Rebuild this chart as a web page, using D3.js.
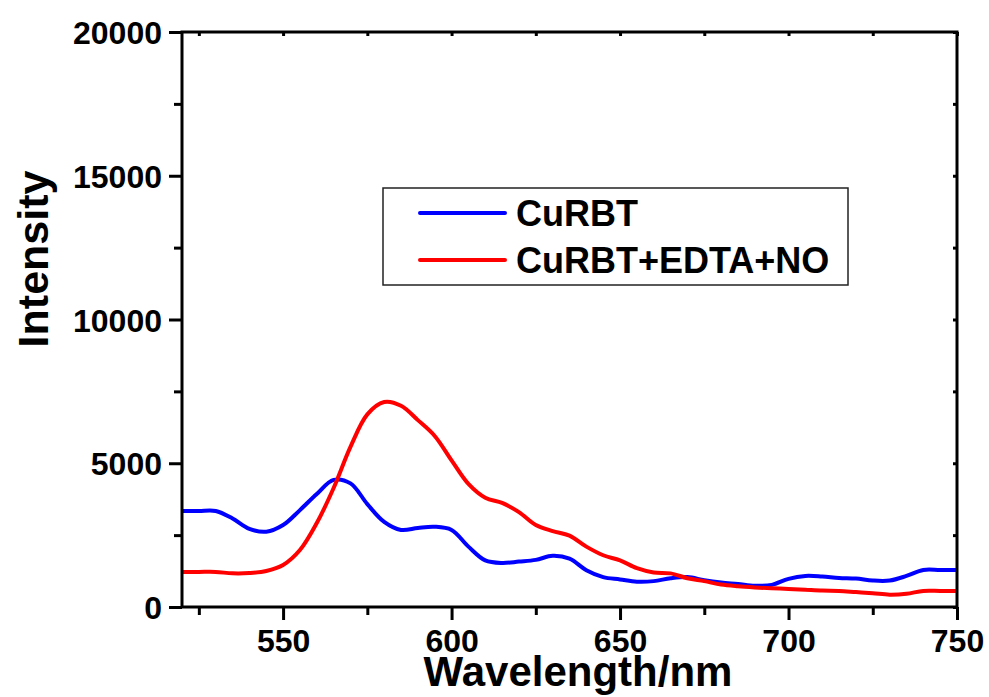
<!DOCTYPE html>
<html><head><meta charset="utf-8">
<script src="https://cdn.jsdelivr.net/npm/d3@7"></script>
<style>body{margin:0;background:#fff}svg{display:block}text{font-family:"Liberation Sans",Arial,sans-serif;font-weight:bold;fill:#000}</style>
</head><body>
<svg id="c" width="989" height="697"></svg>
<script>
const wavelengths = [520,525,530,535,540,545,550,555,560,565,570,575,580,585,590,595,600,605,610,615,620,625,630,635,640,645,650,655,660,665,670,675,680,685,690,695,700,705,710,715,720,725,730,735,740,745,750];
const curbt = [3340,3340,3340,3080,2720,2620,2850,3370,3930,4420,4300,3580,2960,2680,2750,2790,2680,2100,1620,1530,1580,1640,1780,1680,1280,1040,960,880,900,1000,1040,930,850,800,740,770,980,1080,1060,1010,990,920,920,1080,1290,1290,1290];
const curbtEdtaNo = [1220,1220,1220,1170,1180,1250,1460,1980,2920,4140,5570,6700,7130,7000,6500,5950,5100,4280,3800,3620,3300,2850,2640,2480,2100,1800,1620,1350,1200,1170,1000,900,780,720,680,650,630,600,570,560,520,480,430,460,560,560,560];
const seriesNames = ["CuRBT","CuRBT+EDTA+NO"];
const seriesColors = ["#0000ff","#ff0000"];
const xTicks = [550,600,650,700,750];
const xMinor = [525,575,625,675,725];
const yTicks = [0,5000,10000,15000,20000];
const yMinor = [2500,7500,12500,17500];

const svg = d3.select("#c");
const L=182, R=957, T=32, B=607;
const x = d3.scaleLinear().domain([520,750]).range([L,R]);
const y = d3.scaleLinear().domain([0,20000]).range([B,T]);

const line = d3.line().x(d=>x(d[0])).y(d=>y(d[1])).curve(d3.curveCatmullRom.alpha(0.5));
const series = [curbt, curbtEdtaNo];
series.forEach((s,i)=>{
  svg.append("path").datum(wavelengths.map((w,j)=>[w,s[j]]))
    .attr("d",line).attr("fill","none").attr("stroke",seriesColors[i]).attr("stroke-width",4).attr("stroke-linejoin","round");
});

function styleAxis(g){ g.select(".domain").remove(); g.selectAll("line").attr("stroke","#000").attr("stroke-width",3); }

svg.append("g").attr("transform",`translate(0,${B})`).call(d3.axisBottom(x).tickValues(xTicks).tickSize(13).tickFormat(d3.format("d")))
  .call(styleAxis).call(g=>g.selectAll("text").attr("font-size",32).attr("dy",0).attr("y",45));
svg.append("g").attr("transform",`translate(0,${B})`).call(d3.axisBottom(x).tickValues(xMinor).tickSize(8).tickFormat(""))
  .call(styleAxis);
svg.append("g").attr("transform",`translate(${L},0)`).call(d3.axisLeft(y).tickValues(yTicks).tickSize(13).tickFormat(d3.format("d")))
  .call(styleAxis).call(g=>g.selectAll("text").attr("font-size",32).attr("x",-20).attr("dy","0.36em"));
svg.append("g").attr("transform",`translate(${L},0)`).call(d3.axisLeft(y).tickValues(yMinor).tickSize(8).tickFormat(""))
  .call(styleAxis);
svg.append("g").attr("transform",`translate(0,${T})`).call(d3.axisBottom(x).tickValues(xTicks.concat(xMinor)).tickSize(4).tickFormat("")).call(styleAxis);
svg.append("g").attr("transform",`translate(${R},0)`).call(d3.axisLeft(y).tickValues(yTicks.concat(yMinor)).tickSize(4).tickFormat("")).call(styleAxis);

svg.append("rect").attr("x",L).attr("y",T).attr("width",R-L).attr("height",B-T).attr("fill","none").attr("stroke","#000").attr("stroke-width",3);

svg.append("text").attr("x",578).attr("y",686).attr("text-anchor","middle").attr("font-size",42).text("Wavelength/nm");
svg.append("text").attr("transform",`translate(48,259) rotate(-90)`).attr("text-anchor","middle").attr("font-size",43).text("Intensity");

const lg = svg.append("g");
lg.append("rect").attr("x",383).attr("y",188).attr("width",465).attr("height",97).attr("fill","#fff").attr("stroke","#222").attr("stroke-width",1.5);
seriesNames.forEach((n,i)=>{
  const yy = 213 + i*47;
  lg.append("line").attr("x1",420).attr("x2",505).attr("y1",yy).attr("y2",yy).attr("stroke",seriesColors[i]).attr("stroke-width",4).attr("stroke-linecap","round");
  lg.append("text").attr("x",516).attr("y",yy+13).attr("font-size",36).text(n);
});
</script>
</body></html>
